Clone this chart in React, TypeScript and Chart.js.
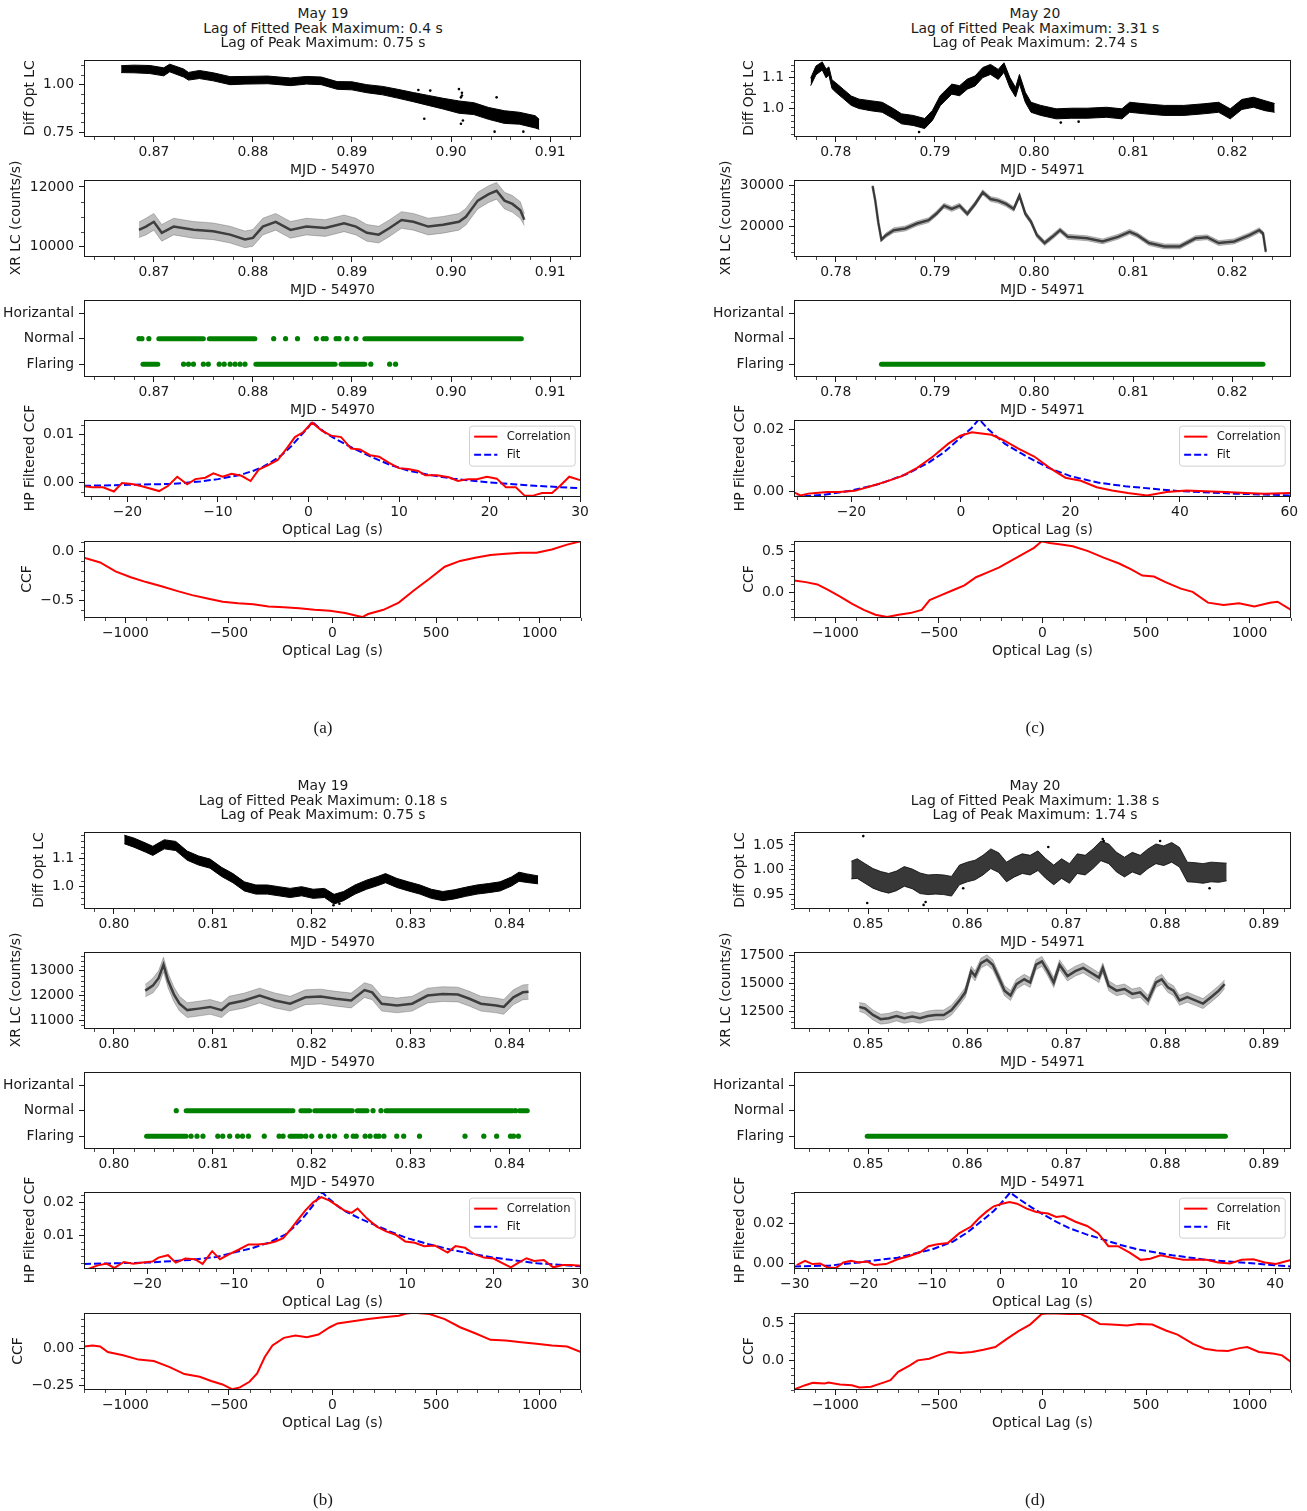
import React, { useEffect, useRef } from 'react';
import { Chart, registerables } from 'chart.js';
Chart.register(...registerables);

// ======================= DATA =======================
// rows of light curves: [MJD offset, centre value, half width of the point cloud]

// ---- (a) May 19, MJD - 54970 ----
const aTitle = ['May 19', 'Lag of Fitted Peak Maximum: 0.4 s', 'Lag of Peak Maximum: 0.75 s'];
const aOpt = [
  [0.8667, 1.078, 0.018], [0.868, 1.079, 0.02], [0.8696, 1.076, 0.021], [0.871, 1.064, 0.021],
  [0.8716, 1.084, 0.02], [0.873, 1.058, 0.021], [0.8735, 1.041, 0.02], [0.8746, 1.05, 0.021],
  [0.876, 1.038, 0.021], [0.8777, 1.018, 0.021], [0.8792, 1.02, 0.02], [0.8815, 1.022, 0.02],
  [0.8838, 1.012, 0.02], [0.8854, 1.02, 0.02], [0.8869, 1.017, 0.02], [0.8885, 0.993, 0.02],
  [0.89, 0.991, 0.021], [0.8915, 0.976, 0.021], [0.8931, 0.966, 0.022], [0.8946, 0.95, 0.023],
  [0.8962, 0.932, 0.024], [0.8977, 0.915, 0.026], [0.8992, 0.898, 0.028], [0.9008, 0.88, 0.032],
  [0.9023, 0.872, 0.031], [0.9038, 0.847, 0.031], [0.9054, 0.828, 0.033], [0.9069, 0.822, 0.031],
  [0.9085, 0.803, 0.032], [0.9089, 0.79, 0.026],
];
const aOptOut = [
  [0.8967, 0.969], [0.8973, 0.819], [0.8979, 0.966], [0.9008, 0.974], [0.9011, 0.955], [0.9011, 0.94],
  [0.901, 0.931], [0.9012, 0.81], [0.901, 0.793], [0.9046, 0.931], [0.9044, 0.752], [0.9073, 0.752],
];
const aXr = [
  [0.8685, 10560, 260], [0.8692, 10670, 280], [0.87, 10830, 280], [0.8708, 10460, 280], [0.872, 10670, 280],
  [0.874, 10560, 280], [0.876, 10510, 280], [0.8777, 10400, 280], [0.8792, 10240, 280], [0.88, 10290, 280],
  [0.881, 10670, 280], [0.8823, 10830, 280], [0.8838, 10560, 280], [0.8854, 10670, 280], [0.8873, 10620, 280],
  [0.8892, 10780, 280], [0.8904, 10670, 280], [0.8915, 10460, 280], [0.8927, 10400, 280], [0.8938, 10620, 280],
  [0.895, 10890, 280], [0.8962, 10830, 280], [0.8977, 10670, 280], [0.8992, 10730, 280], [0.9008, 10830, 280],
  [0.9015, 11000, 280], [0.9027, 11540, 280], [0.9038, 11760, 280], [0.9046, 11870, 280], [0.9054, 11540, 280],
  [0.9062, 11430, 280], [0.907, 11220, 280], [0.9074, 10900, 200],
];
const aNormalRuns = [[0.8705, 0.875], [0.8756, 0.8802], [0.8913, 0.9071]];
const aNormalDots = [0.8685, 0.8688, 0.8695, 0.8821, 0.8833, 0.8845, 0.8864, 0.8871, 0.8874, 0.8884, 0.8887, 0.8895, 0.8904];
const aFlareRuns = [[0.8689, 0.8704], [0.8803, 0.8883], [0.8889, 0.8913]];
const aFlareDots = [0.873, 0.8735, 0.874, 0.875, 0.8755, 0.8766, 0.8771, 0.8777, 0.8782, 0.8787, 0.8792, 0.8919, 0.8938, 0.8944];
const aHpCorr = [
  [-24.8, -0.0008], [-23.9, -0.001], [-22.7, -0.001], [-21.5, -0.0019], [-20.6, -0.0001], [-19.5, -0.0003],
  [-18.4, -0.0008], [-16.5, -0.0018], [-15.5, -0.0007], [-14.5, 0.0012], [-13.4, -0.0004], [-12.5, 0.0007],
  [-11.4, 0.001], [-10.5, 0.0019], [-9.5, 0.0012], [-8.5, 0.0018], [-7.4, 0.0014], [-6.4, 0.0003],
  [-5.5, 0.0027], [-4.4, 0.0037], [-3.4, 0.0047], [-2.3, 0.0074], [-1.5, 0.0095], [-0.6, 0.0105],
  [0.4, 0.0125], [1.5, 0.0108], [2.5, 0.0098], [3.6, 0.0095], [4.7, 0.0071], [5.7, 0.0069], [6.8, 0.0057],
  [7.8, 0.0054], [8.9, 0.0041], [10, 0.003], [11, 0.0028], [12.1, 0.0024], [12.9, 0.0015], [14.2, 0.0015],
  [15.5, 0.0011], [16.5, 0.0003], [17.6, 0.0007], [18.6, 0.0007], [19.7, 0.0012], [20.8, 0.0008],
  [21.8, -0.001], [22.9, -0.001], [23.9, -0.0028], [24.9, -0.0027], [25.8, -0.0022], [26.9, -0.0022],
  [27.8, -0.0007], [28.8, 0.0012], [30, 0.0005],
];
const aHpFit = [
  [-24.8, -0.0007], [-20, -0.0005], [-15, -0.0003], [-12, 0.0002], [-10, 0.0007], [-8, 0.0014], [-7, 0.0019],
  [-6, 0.0025], [-5, 0.0033], [-4, 0.0044], [-3, 0.0057], [-2, 0.0074], [-1, 0.0095], [0, 0.0116],
  [0.4, 0.0127], [1, 0.0117], [2, 0.0102], [3, 0.0091], [4, 0.0081], [5, 0.0071], [6, 0.0062], [7, 0.0053],
  [8, 0.0045], [9, 0.0037], [10, 0.0031], [11, 0.0025], [13, 0.0017], [16, 0.0008], [20, 0.0],
  [25, -0.0007], [30.1, -0.0012],
];
const aCcf = [
  [-1200, -0.061], [-1122, -0.111], [-1048, -0.203], [-974, -0.264], [-900, -0.314], [-826, -0.358],
  [-752, -0.405], [-678, -0.449], [-604, -0.483], [-530, -0.517], [-456, -0.534], [-383, -0.544],
  [-309, -0.568], [-235, -0.574], [-161, -0.584], [-87, -0.601], [-13, -0.611], [61, -0.635], [116, -0.662],
  [144, -0.676], [172, -0.645], [246, -0.601], [320, -0.527], [394, -0.399], [468, -0.28], [542, -0.155],
  [616, -0.095], [689, -0.061], [763, -0.034], [837, -0.02], [911, -0.01], [985, -0.01], [1059, 0.024],
  [1133, 0.074], [1200, 0.11],
];

// ---- (c) May 20, MJD - 54971 ----
const cTitle = ['May 20', 'Lag of Fitted Peak Maximum: 3.31 s', 'Lag of Peak Maximum: 2.74 s'];
const cOpt = [
  [0.77746, 1.085, 0.012], [0.778, 1.122, 0.014], [0.77863, 1.136, 0.013], [0.77902, 1.112, 0.014],
  [0.7793, 1.12, 0.013], [0.77961, 1.078, 0.014], [0.78, 1.067, 0.015], [0.78078, 1.046, 0.015],
  [0.78156, 1.025, 0.015], [0.78234, 1.015, 0.015], [0.78351, 1.009, 0.016], [0.78468, 1.004, 0.016],
  [0.78585, 0.983, 0.016], [0.78663, 0.967, 0.016], [0.7878, 0.962, 0.016], [0.78897, 0.952, 0.016],
  [0.78975, 0.978, 0.016], [0.79053, 1.025, 0.016], [0.7917, 1.062, 0.016], [0.79249, 1.057, 0.016],
  [0.79327, 1.078, 0.016], [0.79405, 1.088, 0.016], [0.79483, 1.115, 0.016], [0.79561, 1.125, 0.016],
  [0.79639, 1.109, 0.016], [0.79697, 1.131, 0.015], [0.79756, 1.083, 0.016], [0.79814, 1.052, 0.015],
  [0.79853, 1.094, 0.015], [0.79912, 1.036, 0.016], [0.7997, 1.004, 0.016], [0.80068, 0.994, 0.016],
  [0.80224, 0.983, 0.016], [0.8038, 0.985, 0.016], [0.80536, 0.985, 0.016], [0.80731, 0.988, 0.016],
  [0.80887, 0.983, 0.016], [0.80965, 1.004, 0.016], [0.81121, 0.999, 0.016], [0.81316, 0.994, 0.016],
  [0.81512, 0.994, 0.016], [0.81707, 0.999, 0.016], [0.81863, 1.004, 0.016], [0.8198, 0.983, 0.016],
  [0.82097, 1.013, 0.016], [0.82214, 1.02, 0.016], [0.82331, 1.009, 0.016], [0.82428, 1.002, 0.014],
];
const cOptOut = [[0.8027, 0.955], [0.8045, 0.958], [0.7884, 0.925]];
const cXr = [
  [0.78371, 29800, 250], [0.78398, 26300, 300], [0.78429, 21000, 300], [0.7846, 16900, 400],
  [0.78507, 18000, 550], [0.78585, 19200, 600], [0.78702, 19600, 600], [0.78819, 20800, 600],
  [0.78936, 21600, 600], [0.79014, 23150, 600], [0.79092, 25100, 600], [0.7917, 24300, 600],
  [0.79249, 25100, 600], [0.79327, 23150, 600], [0.79405, 25500, 600], [0.79483, 28300, 600],
  [0.79561, 26700, 600], [0.79639, 26300, 600], [0.79717, 25500, 600], [0.79795, 24300, 600],
  [0.79853, 27500, 600], [0.79912, 23150, 600], [0.7997, 21200, 600], [0.80029, 18000, 600],
  [0.80107, 16100, 600], [0.80185, 17600, 600], [0.80263, 19200, 600], [0.80341, 17600, 600],
  [0.80536, 17250, 600], [0.80692, 16500, 600], [0.80848, 17600, 600], [0.80965, 18800, 600],
  [0.81043, 18000, 600], [0.8116, 16100, 600], [0.81316, 15300, 600], [0.81472, 15300, 600],
  [0.81629, 17250, 600], [0.81746, 17500, 600], [0.81863, 16100, 600], [0.82019, 16500, 600],
  [0.82175, 18000, 600], [0.82272, 19200, 600], [0.82311, 18400, 500], [0.82339, 14000, 300],
];
const cFlareRuns = [[0.7846, 0.8231]];
const cHpCorr = [
  [-30.4, -0.0005], [-29.3, -0.0014], [-27.9, -0.0008], [-26.5, -0.0006], [-24.4, -0.0003], [-22.2, -0.0003],
  [-19.4, 0.0001], [-16.5, 0.0016], [-13.7, 0.0031], [-10.8, 0.0049], [-8, 0.0076], [-5.1, 0.0113],
  [-2.3, 0.0155], [-0.1, 0.0181], [2, 0.0192], [3.4, 0.0189], [5.6, 0.0184], [7.7, 0.0167], [10.5, 0.0139],
  [13.4, 0.0113], [16.2, 0.0076], [19.1, 0.0044], [21.9, 0.0034], [24.8, 0.0013], [27.6, 0.0002],
  [30.5, -0.0006], [34, -0.0014], [37.6, -0.0003], [41.2, 0.0002], [44.7, 0], [48.3, -0.0003],
  [51.9, -0.0006], [55.4, -0.0008], [60.3, -0.0006],
];
const cHpFit = [
  [-30.5, -0.0019], [-25, -0.0012], [-20, 0.0002], [-15, 0.0023], [-10, 0.0055], [-6, 0.0092], [-3, 0.0128],
  [0, 0.0176], [2, 0.0207], [3.3, 0.0235], [5, 0.0202], [8, 0.0155], [12, 0.0113], [16, 0.0076],
  [20, 0.0049], [25, 0.0028], [30, 0.0016], [40, 0.0], [50, -0.0008], [60.3, -0.0014],
];
const cCcf = [
  [-1200, 0.148], [-1143, 0.128], [-1087, 0.1], [-1031, 0.028], [-975, -0.052], [-919, -0.14], [-863, -0.212],
  [-807, -0.272], [-751, -0.3], [-695, -0.272], [-639, -0.252], [-583, -0.212], [-545, -0.092], [-489, -0.032],
  [-433, 0.028], [-377, 0.088], [-321, 0.188], [-265, 0.248], [-209, 0.308], [-153, 0.388], [-97, 0.468],
  [-41, 0.548], [-4, 0.628], [34, 0.608], [90, 0.588], [146, 0.568], [220, 0.508], [295, 0.428], [370, 0.356],
  [426, 0.288], [482, 0.208], [538, 0.196], [594, 0.128], [668, 0.048], [725, 0.008], [799, -0.124],
  [874, -0.152], [949, -0.132], [1023, -0.172], [1098, -0.124], [1135, -0.112], [1200, -0.212],
];

// ---- (b) May 19, MJD - 54970 ----
const bTitle = ['May 19', 'Lag of Fitted Peak Maximum: 0.18 s', 'Lag of Peak Maximum: 0.75 s'];
const bOpt = [
  [0.80104, 1.166, 0.015], [0.80201, 1.155, 0.016], [0.80316, 1.138, 0.016], [0.80393, 1.126, 0.016],
  [0.80509, 1.149, 0.016], [0.80625, 1.143, 0.016], [0.80741, 1.109, 0.016], [0.80856, 1.092, 0.016],
  [0.80972, 1.081, 0.016], [0.81088, 1.052, 0.016], [0.81203, 1.03, 0.016], [0.81319, 1.001, 0.016],
  [0.81435, 0.99, 0.016], [0.81551, 0.99, 0.016], [0.81666, 0.984, 0.016], [0.81782, 0.978, 0.016],
  [0.81898, 0.984, 0.016], [0.82014, 0.975, 0.016], [0.82129, 0.978, 0.016], [0.82226, 0.956, 0.017],
  [0.82322, 0.967, 0.016], [0.82438, 0.99, 0.016], [0.82554, 1.007, 0.016], [0.82669, 1.02, 0.016],
  [0.82746, 1.03, 0.016], [0.82862, 1.013, 0.016], [0.82978, 1.001, 0.016], [0.83094, 0.99, 0.016],
  [0.83209, 0.975, 0.016], [0.83325, 0.967, 0.016], [0.83441, 0.973, 0.016], [0.83556, 0.982, 0.016],
  [0.83672, 0.99, 0.016], [0.83788, 0.995, 0.016], [0.83904, 1.001, 0.016], [0.84019, 1.018, 0.016],
  [0.84096, 1.035, 0.016], [0.84174, 1.03, 0.015], [0.84289, 1.024, 0.014],
];
const bOptOut = [[0.8222, 0.935], [0.8228, 0.94]];
const bXr = [
  [0.80316, 12200, 250], [0.80393, 12400, 300], [0.80451, 12700, 300], [0.80501, 13250, 300],
  [0.80548, 12600, 300], [0.80606, 12050, 300], [0.80663, 11670, 300], [0.80741, 11410, 300],
  [0.80856, 11470, 300], [0.80972, 11540, 300], [0.81088, 11410, 300], [0.81165, 11670, 300],
  [0.81319, 11800, 300], [0.81473, 12000, 300], [0.81628, 11800, 300], [0.81782, 11670, 300],
  [0.81936, 11930, 300], [0.82091, 11960, 300], [0.82245, 11870, 300], [0.82399, 11800, 300],
  [0.82534, 12220, 300], [0.82611, 12130, 300], [0.82708, 11670, 300], [0.82862, 11600, 300],
  [0.83016, 11670, 300], [0.83171, 12000, 300], [0.83325, 12060, 300], [0.83479, 12040, 300],
  [0.83595, 11870, 300], [0.83711, 11670, 300], [0.83865, 11600, 300], [0.83942, 11540, 300],
  [0.84039, 11930, 300], [0.84135, 12130, 300], [0.84193, 12150, 300],
];
const bNormalRuns = [[0.8073, 0.8181], [0.8189, 0.8198], [0.8203, 0.8241], [0.8246, 0.8256], [0.8275, 0.8403], [0.841, 0.8418]];
const bNormalDots = [0.8063, 0.8262, 0.827, 0.8406];
const bFlareRuns = [[0.8033, 0.8073], [0.8178, 0.819]];
const bFlareDots = [
  0.8078, 0.8084, 0.809, 0.8105, 0.811, 0.8117, 0.8125, 0.813, 0.8136, 0.8152, 0.8167, 0.8171, 0.8194, 0.82,
  0.8209, 0.8217, 0.8223, 0.8235, 0.8242, 0.8245, 0.8254, 0.8259, 0.8265, 0.8268, 0.8273, 0.8286, 0.8293,
  0.8309, 0.8355, 0.8374, 0.8387, 0.8401, 0.8404, 0.8409,
];
const bHpCorr = [
  [-26.8, 0.0001], [-25.8, 0.0011], [-24.7, 0.0017], [-23.8, 0.0004], [-22.7, 0.0022], [-21.6, 0.0017],
  [-20.5, 0.002], [-19.4, 0.0023], [-18.7, 0.0035], [-17.6, 0.0042], [-16.7, 0.002], [-15.6, 0.0032],
  [-14.5, 0.003], [-13.6, 0.0016], [-12.5, 0.0054], [-11.6, 0.003], [-10.5, 0.0045], [-9.4, 0.0059],
  [-8.3, 0.0074], [-7.2, 0.0074], [-6.1, 0.0077], [-5.2, 0.0083], [-4.3, 0.0093], [-3.5, 0.0117],
  [-2.6, 0.0147], [-1.7, 0.0176], [-0.8, 0.02], [0.1, 0.0215], [1, 0.0205], [1.9, 0.019], [2.7, 0.0176],
  [3.6, 0.0168], [4.3, 0.0181], [5.4, 0.0151], [6.5, 0.0127], [7.6, 0.0113], [8.7, 0.0103], [9.8, 0.0083],
  [10.9, 0.0079], [12, 0.0069], [13.2, 0.0071], [14.7, 0.005], [15.6, 0.0069], [16.7, 0.0064],
  [17.8, 0.0045], [18.9, 0.0035], [20, 0.0032], [20.9, 0.002], [22, 0.0006], [22.9, 0.002], [23.8, 0.0033],
  [24.7, 0.0025], [25.8, 0.0028], [26.9, 0.0006], [28, 0.0013], [28.9, 0.0013], [30.1, 0.0011],
];
const bHpFit = [
  [-27.3, 0.0016], [-20, 0.002], [-15, 0.0028], [-12, 0.0037], [-10, 0.005], [-8, 0.0062], [-6, 0.0079],
  [-4, 0.0104], [-3, 0.0127], [-2, 0.0153], [-1, 0.0185], [0.2, 0.0229], [1, 0.021], [2, 0.0188],
  [3, 0.0171], [4.5, 0.0152], [6, 0.0135], [8, 0.0113], [10, 0.0093], [12.5, 0.0075], [15, 0.0059],
  [17.5, 0.0046], [20, 0.0035], [25, 0.0018], [30.1, 0.0009],
];
const bCcf = [
  [-1200, 0.011], [-1159, 0.018], [-1122, 0.011], [-1085, -0.027], [-1011, -0.049], [-937, -0.078],
  [-863, -0.087], [-789, -0.127], [-715, -0.176], [-641, -0.194], [-586, -0.223], [-531, -0.246],
  [-484, -0.279], [-447, -0.266], [-401, -0.228], [-364, -0.172], [-327, -0.06], [-290, 0.018], [-235, 0.069],
  [-179, 0.085], [-124, 0.074], [-68, 0.092], [-13, 0.141], [24, 0.167], [98, 0.181], [172, 0.196],
  [246, 0.208], [320, 0.219], [357, 0.234], [394, 0.239], [468, 0.23], [542, 0.196], [616, 0.141],
  [689, 0.1], [763, 0.056], [837, 0.051], [911, 0.04], [985, 0.029], [1059, 0.018], [1133, 0.011],
  [1200, -0.027],
];

// ---- (d) May 20, MJD - 54971 ----
const dTitle = ['May 20', 'Lag of Fitted Peak Maximum: 1.38 s', 'Lag of Peak Maximum: 1.74 s'];
const dOpt = [
  [0.84829, 0.999, 0.018], [0.84889, 1.002, 0.02], [0.84968, 0.992, 0.02], [0.85048, 0.982, 0.02],
  [0.85127, 0.976, 0.02], [0.85207, 0.972, 0.02], [0.85286, 0.977, 0.02], [0.85365, 0.986, 0.02],
  [0.85445, 0.981, 0.02], [0.85524, 0.972, 0.021], [0.85604, 0.969, 0.02], [0.85683, 0.97, 0.02],
  [0.85763, 0.969, 0.02], [0.85842, 0.966, 0.02], [0.85922, 0.989, 0.02], [0.86001, 0.995, 0.02],
  [0.8608, 0.999, 0.02], [0.8616, 1.009, 0.02], [0.86239, 1.022, 0.02], [0.86319, 1.014, 0.02],
  [0.86398, 0.995, 0.02], [0.86478, 1.005, 0.02], [0.86557, 1.012, 0.02], [0.86637, 1.009, 0.02],
  [0.86716, 1.018, 0.02], [0.86795, 1.002, 0.02], [0.86875, 0.989, 0.02], [0.86954, 1.002, 0.02],
  [0.87034, 0.992, 0.02], [0.87113, 1.012, 0.02], [0.87193, 1.009, 0.02], [0.87272, 1.022, 0.02],
  [0.87352, 1.038, 0.02], [0.87431, 1.032, 0.02], [0.8751, 1.015, 0.02], [0.8759, 1.005, 0.02],
  [0.87669, 1.015, 0.02], [0.87749, 1.009, 0.02], [0.87828, 1.022, 0.02], [0.87908, 1.032, 0.02],
  [0.87987, 1.028, 0.02], [0.88067, 1.035, 0.02], [0.88146, 1.025, 0.02], [0.88225, 0.995, 0.02],
  [0.88305, 0.994, 0.02], [0.88384, 0.992, 0.02], [0.88464, 0.995, 0.02], [0.88543, 0.994, 0.02],
  [0.88623, 0.995, 0.018],
];
const dOptOut = [
  [0.8495, 1.068], [0.8499, 0.932], [0.8556, 0.928], [0.8558, 0.934], [0.8737, 1.062], [0.8738, 1.058],
  [0.8795, 1.058], [0.8682, 1.046], [0.8596, 0.962], [0.8845, 0.962],
];
const dXr = [
  [0.84909, 12880, 400], [0.84968, 12735, 450], [0.85048, 12150, 450], [0.85127, 11770, 450],
  [0.85207, 11850, 450], [0.85286, 12060, 450], [0.85365, 11850, 450], [0.85445, 12000, 450],
  [0.85524, 11850, 450], [0.85604, 12060, 450], [0.85683, 12150, 450], [0.85763, 12150, 450],
  [0.85842, 12590, 450], [0.85922, 13470, 450], [0.85981, 14200, 450], [0.86041, 16120, 450],
  [0.8608, 15680, 450], [0.8614, 16850, 450], [0.862, 17150, 450], [0.86259, 16700, 450],
  [0.86319, 15530, 450], [0.86378, 14350, 450], [0.86438, 13910, 450], [0.86498, 14940, 450],
  [0.86577, 15380, 450], [0.86637, 15090, 450], [0.86696, 16700, 450], [0.86756, 17000, 450],
  [0.86815, 16120, 450], [0.86875, 15090, 450], [0.86934, 16700, 450], [0.87014, 15680, 450],
  [0.87093, 16120, 450], [0.87173, 16410, 450], [0.87252, 15970, 450], [0.87332, 15530, 450],
  [0.87371, 16410, 450], [0.87431, 14790, 450], [0.8751, 14350, 450], [0.8759, 14500, 450],
  [0.87669, 14060, 450], [0.87749, 14200, 450], [0.87828, 13470, 450], [0.87908, 15090, 450],
  [0.87967, 15380, 450], [0.88027, 14650, 450], [0.88086, 14350, 450], [0.88146, 13470, 450],
  [0.88225, 13760, 450], [0.88305, 13470, 450], [0.88384, 13180, 450], [0.88464, 13760, 450],
  [0.88543, 14350, 450], [0.88603, 14940, 400],
];
const dFlareRuns = [[0.8499, 0.8861]];
const dHpCorr = [
  [-29.7, -0.0008], [-28.5, 0.0013], [-27.4, -0.0003], [-26.3, 0], [-25.2, -0.002], [-24, -0.0023],
  [-22.9, 0.0005], [-21.8, 0.0013], [-20.7, 0.0005], [-19.5, 0.001], [-18.4, -0.0008], [-16.7, -0.0003],
  [-15, 0.0021], [-13.3, 0.0037], [-11.7, 0.0057], [-10.5, 0.0086], [-9.4, 0.0094], [-7.7, 0.0102],
  [-6, 0.0151], [-4.3, 0.0184], [-3.2, 0.0224], [-2.1, 0.0257], [-1, 0.0285], [0.2, 0.0298], [1.3, 0.0306],
  [2.4, 0.0298], [3.8, 0.0273], [5.2, 0.0257], [6.9, 0.0249], [8.1, 0.0232], [9.2, 0.0236], [10.9, 0.0208],
  [12.6, 0.0187], [14.2, 0.0151], [15.7, 0.0086], [17.1, 0.0086], [18.8, 0.0054], [20.4, 0.0018],
  [21.8, 0.0024], [23.3, 0.0041], [24.9, 0.0029], [26.6, 0.0018], [28.3, 0.0018], [30, 0.0018],
  [31.7, 0.0005], [33.4, 0], [35.1, 0.0018], [36.8, 0.0021], [38.5, 0.0005], [40.1, -0.0003], [42.3, 0.0018],
];
const dHpFit = [
  [-30.1, -0.0015], [-25, -0.0011], [-20, 0.0008], [-15, 0.0029], [-10, 0.007], [-7, 0.0108], [-5, 0.0151],
  [-3, 0.0205], [-2, 0.0233], [-1, 0.0262], [0, 0.0298], [1.4, 0.0354], [2, 0.0338], [3, 0.0314],
  [4.5, 0.028], [6, 0.0248], [8, 0.021], [10, 0.0176], [12.5, 0.0145], [15, 0.0119], [17.5, 0.0092],
  [20, 0.007], [25, 0.0041], [30, 0.0018], [35, 0.0005], [42.3, -0.0015],
];
const dCcf = [
  [-1200, -0.393], [-1146, -0.335], [-1109, -0.304], [-1052, -0.313], [-1034, -0.299], [-978, -0.326],
  [-921, -0.335], [-884, -0.366], [-828, -0.357], [-772, -0.304], [-734, -0.268], [-697, -0.156],
  [-640, -0.067], [-603, 0], [-547, 0.022], [-491, 0.08], [-453, 0.112], [-397, 0.098], [-341, 0.112],
  [-285, 0.143], [-228, 0.179], [-172, 0.29], [-116, 0.393], [-60, 0.482], [-4, 0.625], [34, 0.634],
  [127, 0.625], [184, 0.625], [221, 0.58], [277, 0.491], [333, 0.482], [408, 0.469], [464, 0.491],
  [530, 0.482], [596, 0.402], [652, 0.348], [727, 0.223], [783, 0.156], [839, 0.134], [895, 0.125],
  [951, 0.165], [989, 0.179], [1045, 0.112], [1120, 0.089], [1157, 0.067], [1200, -0.022],
];

// axis ticks
const stateLabels = ['Flaring', 'Normal', 'Horizantal'];
const ccfLagTicks = [-1000, -500, 0, 500, 1000];

// ======================= RENDERING =======================
const FONT = 'DejaVu Sans';
const INK = '#1a1a1a';
const FS = 13.9;
const YW = 90, PT = 12, PR = 34, XH = 30;
const FW = 497, FH = 78;
const ROW_TOPS = [59, 179, 299, 419, 540];

type Sub = {
  left: number; top: number;
  xMin: number; xMax: number; xTicks: number[]; xDec: number; xMinor: number;
  yMin: number; yMax: number; yTicks: number[]; yFmt: (v: number) => string; yMinor: number;
  datasets: any[]; legend?: boolean;
};

function fmt(v: number, d: number) {
  if (Math.abs(v) < 1e-12) v = 0;
  return (v < 0 ? '\u2212' : '') + Math.abs(v).toFixed(d);
}
const pt = (x: number, y: number) => ({ x, y });

function optBand(rows: number[][], out: number[][], col: string) {
  return [
    { data: rows.map(r => pt(r[0], r[1] - r[2])), borderColor: col, borderWidth: 1, pointRadius: 0, fill: false },
    { data: rows.map(r => pt(r[0], r[1] + r[2])), borderColor: col, borderWidth: 1, pointRadius: 0, fill: '-1', backgroundColor: col },
    { data: out.map(r => pt(r[0], r[1])), showLine: false, pointRadius: 1.3, pointBackgroundColor: '#000', pointBorderWidth: 0 },
  ];
}
function xrBand(rows: number[][]) {
  return [
    { data: rows.map(r => pt(r[0], r[1] - r[2])), borderColor: 'rgba(0,0,0,0.22)', borderWidth: 1, pointRadius: 0, fill: false },
    { data: rows.map(r => pt(r[0], r[1] + r[2])), borderColor: 'rgba(0,0,0,0.22)', borderWidth: 1, pointRadius: 0, fill: '-1', backgroundColor: 'rgba(0,0,0,0.26)' },
    { data: rows.map(r => pt(r[0], r[1])), borderColor: 'rgba(25,25,25,0.75)', borderWidth: 2.5, pointRadius: 0, fill: false },
  ];
}
function stateSets(nr: number[][], nd: number[], fr: number[][], fd: number[]) {
  const G = '#008000';
  const run = (r: number[], y: number) => ({ data: [pt(r[0], y), pt(r[1], y)], borderColor: G, borderWidth: 5, borderCapStyle: 'round', pointRadius: 0, fill: false });
  const dots = (xs: number[], y: number) => ({ data: xs.map(x => pt(x, y)), showLine: false, pointRadius: 2.6, pointBackgroundColor: G, pointBorderWidth: 0 });
  return [...nr.map(r => run(r, 1)), dots(nd, 1), ...fr.map(r => run(r, 0)), dots(fd, 0)];
}
function corrSets(corr: number[][], fit: number[][]) {
  return [
    { label: 'Correlation', data: corr.map(r => pt(r[0], r[1])), borderColor: '#ff0000', borderWidth: 2, pointRadius: 0, fill: false },
    { label: 'Fit', data: fit.map(r => pt(r[0], r[1])), borderColor: '#0000ff', borderWidth: 2, borderDash: [7, 3], pointRadius: 0, fill: false },
  ];
}

function drawLegend(ctx: CanvasRenderingContext2D, a: any) {
  const fs = 11.6;
  ctx.font = `${fs}px "${FONT}"`;
  const tw = ctx.measureText('Correlation').width;
  const pad = 0.4 * fs, hl = 2 * fs, gap = 0.8 * fs;
  const w = pad + hl + gap + tw + pad;
  const h = 40;
  const x0 = a.right - 0.5 * fs - w, y0 = a.top + 0.5 * fs;
  ctx.beginPath();
  (ctx as any).roundRect(x0, y0, w, h, 3);
  ctx.fillStyle = 'rgba(255,255,255,0.85)';
  ctx.fill();
  ctx.strokeStyle = 'rgba(204,204,204,0.9)';
  ctx.lineWidth = 1;
  ctx.stroke();
  const rows = [{ y: y0 + 10.5, c: '#ff0000', d: [] as number[], t: 'Correlation' }, { y: y0 + 28.5, c: '#0000ff', d: [7, 3], t: 'Fit' }];
  for (const r of rows) {
    ctx.beginPath();
    ctx.setLineDash(r.d);
    ctx.strokeStyle = r.c;
    ctx.lineWidth = 2;
    ctx.moveTo(x0 + pad, r.y);
    ctx.lineTo(x0 + pad + hl, r.y);
    ctx.stroke();
    ctx.setLineDash([]);
    ctx.fillStyle = INK;
    ctx.textBaseline = 'middle';
    ctx.textAlign = 'left';
    ctx.fillText(r.t, x0 + pad + hl + gap, r.y);
  }
}

function build(canvas: HTMLCanvasElement, s: Sub) {
  const decor = {
    id: 'decor',
    afterDraw(chart: any) {
      const { ctx, chartArea: a } = chart;
      const sx = chart.scales.x, sy = chart.scales.y;
      ctx.save();
      ctx.strokeStyle = INK;
      ctx.lineWidth = 0.8;
      const minor = (sc: any, step: number, majors: number[], horiz: boolean) => {
        if (!step) return;
        const k0 = Math.ceil(sc.min / step - 1e-6), k1 = Math.floor(sc.max / step + 1e-6);
        for (let k = k0; k <= k1; k++) {
          const v = k * step;
          if (majors.some(m => Math.abs(m - v) < step * 0.01)) continue;
          const p = Math.round(sc.getPixelForValue(v)) + 0.5;
          ctx.beginPath();
          if (horiz) { ctx.moveTo(p, a.bottom); ctx.lineTo(p, a.bottom + 3); }
          else { ctx.moveTo(a.left, p); ctx.lineTo(a.left - 3, p); }
          ctx.stroke();
        }
      };
      minor(sx, s.xMinor, s.xTicks, true);
      minor(sy, s.yMinor, s.yTicks, false);
      if (s.legend) drawLegend(ctx, a);
      ctx.strokeStyle = INK;
      ctx.lineWidth = 1;
      ctx.strokeRect(Math.round(a.left) + 0.5, Math.round(a.top) + 0.5, Math.round(a.right - a.left) - 1, Math.round(a.bottom - a.top) - 1);
      ctx.restore();
    },
  };
  const axis = (min: number, max: number, ticks: number[], f: (v: number) => string, isX: boolean) => ({
    type: 'linear', min, max,
    afterBuildTicks: (ax: any) => { ax.ticks = ticks.map(v => ({ value: v })); },
    afterFit: (ax: any) => { if (isX) ax.height = XH; else ax.width = YW; },
    ticks: {
      callback: (v: any) => f(Number(v)),
      font: { family: FONT, size: FS }, color: INK,
      padding: isX ? 2 : 5, autoSkip: false, maxRotation: 0, minRotation: 0,
    },
    grid: { display: true, drawOnChartArea: false, drawTicks: true, tickLength: 5, tickWidth: 1, tickColor: INK, color: INK },
    border: { display: false },
  });
  return new Chart(canvas, {
    type: 'line',
    data: { datasets: s.datasets.map(d => ({ clip: 0, tension: 0, ...d })) },
    options: {
      animation: false, responsive: false, maintainAspectRatio: false, events: [],
      layout: { padding: { left: 0, top: PT, right: PR, bottom: 0 } },
      plugins: { legend: { display: false }, tooltip: { enabled: false }, title: { display: false } },
      scales: {
        x: axis(s.xMin, s.xMax, s.xTicks, v => fmt(v, s.xDec), true),
        y: axis(s.yMin, s.yMax, s.yTicks, s.yFmt, false),
      },
    } as any,
    plugins: [decor],
  } as any);
}

function Plot({ s }: { s: Sub }) {
  const ref = useRef<HTMLCanvasElement>(null);
  const W = YW + FW + PR, H = PT + FH + XH;
  useEffect(() => {
    const chart = build(ref.current as HTMLCanvasElement, s);
    return () => chart.destroy();
  }, []);
  return (
    <canvas ref={ref} width={W} height={H}
      style={{ position: 'absolute', left: s.left - YW, top: s.top - PT, width: W, height: H }} />
  );
}

type Txt = { x: number; y: number; t: string; rot?: boolean; serif?: boolean; size?: number };

type PanelCfg = {
  ox: number; oy: number; cx: number; caption: string; title: string[]; mjd: string;
  lcX: number[]; lcTicks: number[];
  opt: number[][]; optOut: number[][]; optCol: string; optY: number[]; optTicks: number[]; optDec: number; optMinor: number;
  xr: number[][]; xrY: number[]; xrTicks: number[]; xrMinor: number;
  nr: number[][]; nd: number[]; fr: number[][]; fd: number[];
  hpCorr: number[][]; hpFit: number[][]; hpX: number[]; hpXTicks: number[]; hpXMinor: number;
  hpY: number[]; hpYTicks: number[]; hpYMinor: number;
  ccf: number[][]; ccfY: number[]; ccfTicks: number[]; ccfDec: number; ccfMinor: number;
  labX: number[];
};

function panel(p: PanelCfg) {
  const tops = ROW_TOPS.map(t => t + p.oy);
  const L = p.ox;
  const subs: Sub[] = [
    { left: L, top: tops[0], xMin: p.lcX[0], xMax: p.lcX[1], xTicks: p.lcTicks, xDec: 2, xMinor: 0.002,
      yMin: p.optY[0], yMax: p.optY[1], yTicks: p.optTicks, yFmt: v => fmt(v, p.optDec), yMinor: p.optMinor,
      datasets: optBand(p.opt, p.optOut, p.optCol) },
    { left: L, top: tops[1], xMin: p.lcX[0], xMax: p.lcX[1], xTicks: p.lcTicks, xDec: 2, xMinor: 0.002,
      yMin: p.xrY[0], yMax: p.xrY[1], yTicks: p.xrTicks, yFmt: v => fmt(v, 0), yMinor: p.xrMinor,
      datasets: xrBand(p.xr) },
    { left: L, top: tops[2], xMin: p.lcX[0], xMax: p.lcX[1], xTicks: p.lcTicks, xDec: 2, xMinor: 0.002,
      yMin: -0.5, yMax: 2.5, yTicks: [0, 1, 2], yFmt: v => stateLabels[Math.round(v)] || '', yMinor: 0,
      datasets: stateSets(p.nr, p.nd, p.fr, p.fd) },
    { left: L, top: tops[3], xMin: p.hpX[0], xMax: p.hpX[1], xTicks: p.hpXTicks, xDec: 0, xMinor: p.hpXMinor,
      yMin: p.hpY[0], yMax: p.hpY[1], yTicks: p.hpYTicks, yFmt: v => fmt(v, 2), yMinor: p.hpYMinor,
      datasets: corrSets(p.hpCorr, p.hpFit), legend: true },
    { left: L, top: tops[4], xMin: -1200, xMax: 1200, xTicks: ccfLagTicks, xDec: 0, xMinor: 100,
      yMin: p.ccfY[0], yMax: p.ccfY[1], yTicks: p.ccfTicks, yFmt: v => fmt(v, p.ccfDec), yMinor: p.ccfMinor,
      datasets: [{ data: p.ccf.map(r => pt(r[0], r[1])), borderColor: '#ff0000', borderWidth: 2, pointRadius: 0, fill: false }] },
  ];
  const texts: Txt[] = [];
  [14, 28.5, 42.5].forEach((y, i) => texts.push({ x: p.cx, y: p.oy + y, t: p.title[i] }));
  const xl = [p.mjd, p.mjd, p.mjd, 'Optical Lag (s)', 'Optical Lag (s)'];
  xl.forEach((t, i) => texts.push({ x: L + FW / 2, y: tops[i] + FH + 32.5, t }));
  const yl = ['Diff Opt LC', 'XR LC (counts/s)', null, 'HP Filtered CCF', 'CCF'];
  let j = 0;
  yl.forEach((t, i) => {
    if (t === null) return;
    texts.push({ x: L + p.labX[j++], y: tops[i] + FH / 2, t, rot: true });
  });
  texts.push({ x: p.cx, y: p.oy + 727, t: p.caption, serif: true, size: 17 });
  return { subs, texts };
}

const panels = [
  panel({
    ox: 84, oy: 0, cx: 323, caption: '(a)', title: aTitle, mjd: 'MJD - 54970',
    lcX: [0.86295, 0.91312], lcTicks: [0.87, 0.88, 0.89, 0.9, 0.91],
    opt: aOpt, optOut: aOptOut, optCol: '#000', optY: [0.724, 1.124], optTicks: [0.75, 1.0], optDec: 2, optMinor: 0.05,
    xr: aXr, xrY: [9650, 12220], xrTicks: [10000, 12000], xrMinor: 500,
    nr: aNormalRuns, nd: aNormalDots, fr: aFlareRuns, fd: aFlareDots,
    hpCorr: aHpCorr, hpFit: aHpFit, hpX: [-24.8, 30.1], hpXTicks: [-20, -10, 0, 10, 20, 30], hpXMinor: 2,
    hpY: [-0.00304, 0.013], hpYTicks: [0, 0.01], hpYMinor: 0.002,
    ccf: aCcf, ccfY: [-0.686, 0.108], ccfTicks: [-0.5, 0], ccfDec: 1, ccfMinor: 0.1,
    labX: [-54.4, -67.6, -54.4, -57.2],
  }),
  panel({
    ox: 794, oy: 0, cx: 1035, caption: '(c)', title: cTitle, mjd: 'MJD - 54971',
    lcX: [0.77578, 0.82593], lcTicks: [0.78, 0.79, 0.8, 0.81, 0.82],
    opt: cOpt, optOut: cOptOut, optCol: '#000', optY: [0.909, 1.154], optTicks: [1.0, 1.1], optDec: 1, optMinor: 0.02,
    xr: cXr, xrY: [12750, 31180], xrTicks: [20000, 30000], xrMinor: 2000,
    nr: [], nd: [], fr: cFlareRuns, fd: [],
    hpCorr: cHpCorr, hpFit: cHpFit, hpX: [-30.5, 60.3], hpXTicks: [-20, 0, 20, 40, 60], hpXMinor: 5,
    hpY: [-0.0019, 0.0231], hpYTicks: [0, 0.02], hpYMinor: 0.005,
    ccf: cCcf, ccfY: [-0.312, 0.628], ccfTicks: [0, 0.5], ccfDec: 1, ccfMinor: 0.1,
    labX: [-45.5, -67.6, -54.4, -45.5],
  }),
  panel({
    ox: 84, oy: 772, cx: 323, caption: '(b)', title: bTitle, mjd: 'MJD - 54970',
    lcX: [0.79697, 0.84723], lcTicks: [0.8, 0.81, 0.82, 0.83, 0.84],
    opt: bOpt, optOut: bOptOut, optCol: '#000', optY: [0.9216, 1.191], optTicks: [1.0, 1.1], optDec: 1, optMinor: 0.02,
    xr: bXr, xrY: [10645, 13750], xrTicks: [11000, 12000, 13000], xrMinor: 200,
    nr: bNormalRuns, nd: bNormalDots, fr: bFlareRuns, fd: bFlareDots,
    hpCorr: bHpCorr, hpFit: bHpFit, hpX: [-27.3, 30.1], hpXTicks: [-20, -10, 0, 10, 20, 30], hpXMinor: 2,
    hpY: [0.0001, 0.0229], hpYTicks: [0.01, 0.02], hpYMinor: 0.002,
    ccf: bCcf, ccfY: [-0.2835, 0.235], ccfTicks: [-0.25, 0], ccfDec: 2, ccfMinor: 0.05,
    labX: [-45.5, -67.6, -54.4, -66.1],
  }),
  panel({
    ox: 794, oy: 772, cx: 1035, caption: '(d)', title: dTitle, mjd: 'MJD - 54971',
    lcX: [0.8425, 0.89273], lcTicks: [0.85, 0.86, 0.87, 0.88, 0.89],
    opt: dOpt, optOut: dOptOut, optCol: 'rgba(0,0,0,0.78)', optY: [0.9197, 1.0757], optTicks: [0.95, 1.0, 1.05], optDec: 2, optMinor: 0.01,
    xr: dXr, xrY: [10880, 17820], xrTicks: [12500, 15000, 17500], xrMinor: 500,
    nr: [], nd: [], fr: dFlareRuns, fd: [],
    hpCorr: dHpCorr, hpFit: dHpFit, hpX: [-30.1, 42.3], hpXTicks: [-30, -20, -10, 0, 10, 20, 30, 40], hpXMinor: 2,
    hpY: [-0.00276, 0.03545], hpYTicks: [0, 0.02], hpYMinor: 0.005,
    ccf: dCcf, ccfY: [-0.4, 0.634], ccfTicks: [0, 0.5], ccfDec: 1, ccfMinor: 0.1,
    labX: [-54.4, -67.6, -54.4, -45.5],
  }),
];

export default function App() {
  const subs = panels.flatMap(p => p.subs);
  const texts = panels.flatMap(p => p.texts);
  return (
    <div style={{ position: 'absolute', left: 0, top: 0, width: 1307, height: 1511, background: '#fff', overflow: 'hidden' }}>
      {subs.map((s, i) => <Plot key={i} s={s} />)}
      {texts.map((t, i) => (
        <div key={'t' + i} style={{
          position: 'absolute', left: t.x, top: t.y, whiteSpace: 'nowrap', lineHeight: 1,
          fontFamily: t.serif ? '"Liberation Serif", "Times New Roman", serif' : `"${FONT}", sans-serif`,
          fontSize: t.size || FS, color: INK,
          transform: t.rot ? 'translate(-50%, -50%) rotate(-90deg)' : 'translate(-50%, -50%)',
        }}>{t.t}</div>
      ))}
    </div>
  );
}
